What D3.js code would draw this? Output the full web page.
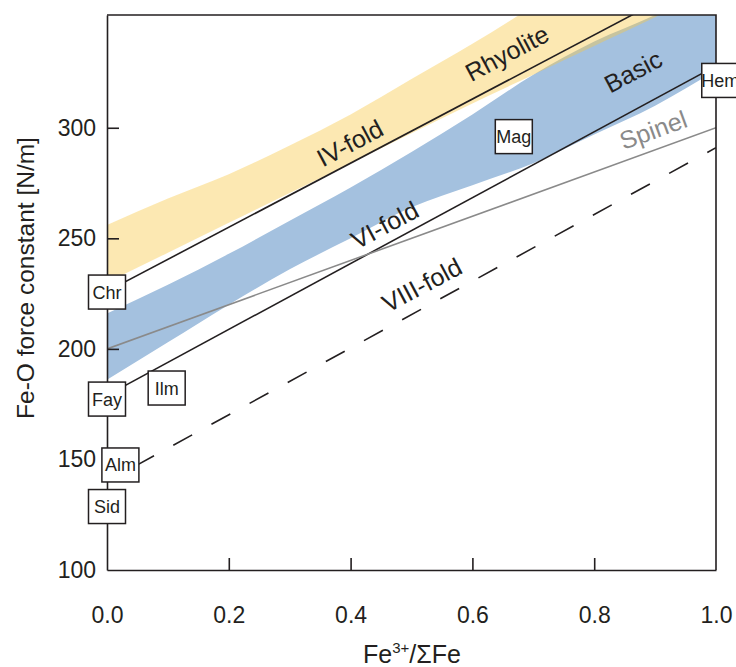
<!DOCTYPE html>
<html>
<head>
<meta charset="utf-8">
<script src="https://cdn.jsdelivr.net/npm/d3@7"></script>
<style>
  body { margin: 0; background: #fff; }
  svg { display: block; font-family: "Liberation Sans", Arial, sans-serif; }
  .tick text { fill: #231f20; }
</style>
</head>
<body>
<script>
const bandX = [0, 0.1, 0.2, 0.3, 0.4, 0.5, 0.6, 0.7, 0.8, 0.9, 1.0];
const basicUpper = [216, 229, 243, 258, 273, 289, 306, 324, 339, 351, 365];
const basicLower = [186, 203, 220, 236, 250, 264, 274, 284, 297, 310, 326];
const rhyoliteUpper = [256, 268, 279, 292, 306, 322, 338, 355, 372, 389, 406];
const rhyoliteLower = [230, 243.5, 257, 270.5, 284, 297.5, 311, 324, 337, 350, 364];

// straight reference lines: value at x=0 and at x=1
const lineNames = ['IV-fold', 'VI-fold', 'Spinel', 'VIII-fold'];
const lineStart = [226, 179, 200, 140];
const lineEnd = [371, 328, 300, 291];

// text labels
const labelNames = ['Rhyolite', 'IV-fold', 'Basic', 'Spinel', 'VI-fold', 'VIII-fold'];
const labelX = [0.657, 0.399, 0.864, 0.897, 0.456, 0.517];
const labelY = [333.7, 293, 325.4, 299, 256, 228.9];

// mineral boxes
const minerals = ['Chr', 'Fay', 'Ilm', 'Alm', 'Sid', 'Mag', 'Hem'];
const mineralX = [0, 0, 0.098, 0.022, 0, 0.668, 1.007];
const mineralY = [225.7, 177.3, 182.3, 147.5, 128.7, 296, 321.4];

const xTicks = [0, 0.2, 0.4, 0.6, 0.8, 1.0];
const yTicks = [100, 150, 200, 250, 300];

const width = 736, height = 667;
const margin = {top: 15, right: 20, bottom: 97, left: 107};

const svg = d3.select('body').append('svg')
  .attr('width', width)
  .attr('height', height);

const x = d3.scaleLinear().domain([0, 1]).range([margin.left, width - margin.right]);
const y = d3.scaleLinear().domain([100, 351]).range([height - margin.bottom, margin.top]);

svg.append('clipPath').attr('id', 'plot')
  .append('rect')
  .attr('x', x(0)).attr('y', y(351))
  .attr('width', x(1) - x(0)).attr('height', y(100) - y(351));

const plot = svg.append('g').attr('clip-path', 'url(#plot)');

// bands
const area = (up, lo) => d3.area()
  .x((d, i) => x(bandX[i]))
  .y0((d, i) => y(lo[i]))
  .y1((d, i) => y(up[i]))
  .curve(d3.curveMonotoneX)(bandX);

plot.append('path')
  .attr('d', area(basicUpper, basicLower))
  .attr('fill', '#a4c1df');

plot.append('path')
  .attr('d', area(rhyoliteUpper, rhyoliteLower))
  .attr('fill', '#f9c947')
  .attr('fill-opacity', 0.42);

// lines
lineNames.forEach((name, i) => {
  const p = plot.append('line')
    .attr('x1', x(0)).attr('y1', y(lineStart[i]))
    .attr('x2', x(1)).attr('y2', y(lineEnd[i]))
    .attr('stroke', name === 'Spinel' ? '#8a8a8a' : '#231f20')
    .attr('stroke-width', 1.6);
  if (name === 'VIII-fold') {
    p.attr('stroke-dasharray', '21.5,22').attr('stroke-dashoffset', 11.4);
  }
});

// labels
labelNames.forEach((name, i) => {
  svg.append('text')
    .attr('transform', `translate(${x(labelX[i])},${y(labelY[i])}) rotate(${name === 'Spinel' ? -20 : -28})`)
    .attr('text-anchor', 'middle')
    .attr('dy', '0.35em')
    .attr('font-size', 25)
    .attr('fill', name === 'Spinel' ? '#8a8a8a' : '#231f20')
    .text(name);
});

// axes
const xAxis = svg.append('g')
  .attr('transform', `translate(0,${y(100)})`)
  .call(d3.axisBottom(x).tickValues(xTicks).tickFormat(d3.format('.1f')).tickSizeInner(-12).tickSizeOuter(0).tickPadding(37));
const yAxis = svg.append('g')
  .attr('transform', `translate(${x(0)},0)`)
  .call(d3.axisLeft(y).tickValues(yTicks).tickSizeInner(-12).tickSizeOuter(0).tickPadding(11));

[xAxis, yAxis].forEach(ax => {
  ax.attr('font-size', 23).attr('font-family', '"Liberation Sans", Arial, sans-serif');
  ax.selectAll('.domain').attr('stroke', '#231f20').attr('stroke-width', 1.6);
  ax.selectAll('.tick line').attr('stroke', '#231f20').attr('stroke-width', 1.6);
});
xAxis.selectAll('.tick').filter(d => d === 0 || d === 1).select('line').remove();
yAxis.selectAll('.tick').filter(d => d === 100).select('line').remove();

// top and right frame
svg.append('path')
  .attr('d', `M${x(0)},${y(351)}H${x(1)}V${y(100)}`)
  .attr('fill', 'none')
  .attr('stroke', '#231f20')
  .attr('stroke-width', 1.6);

// mineral boxes
const boxW = 37, boxH = 34;
const mg = svg.selectAll('g.mineral')
  .data(minerals)
  .enter()
  .append('g')
  .attr('class', 'mineral')
  .attr('transform', (d, i) => `translate(${x(mineralX[i])},${y(mineralY[i])})`);
mg.append('rect')
  .attr('x', -boxW / 2).attr('y', -boxH / 2)
  .attr('width', boxW).attr('height', boxH)
  .attr('fill', '#fff')
  .attr('stroke', '#231f20')
  .attr('stroke-width', 1.5);
mg.append('text')
  .attr('text-anchor', 'middle')
  .attr('dy', '0.36em')
  .attr('font-size', 18)
  .attr('fill', '#231f20')
  .text(d => d);

// axis titles
const xt = svg.append('text')
  .attr('x', 412).attr('y', 663)
  .attr('text-anchor', 'middle')
  .attr('font-size', 25)
  .attr('fill', '#231f20');
xt.append('tspan').text('Fe');
xt.append('tspan').attr('dy', -10).attr('font-size', 15).text('3+');
xt.append('tspan').attr('dy', 10).text('/ΣFe');

svg.append('text')
  .attr('transform', `translate(34,278) rotate(-90)`)
  .attr('text-anchor', 'middle')
  .attr('font-size', 24.5)
  .attr('fill', '#231f20')
  .text('Fe-O force constant [N/m]');
</script>
</body>
</html>
